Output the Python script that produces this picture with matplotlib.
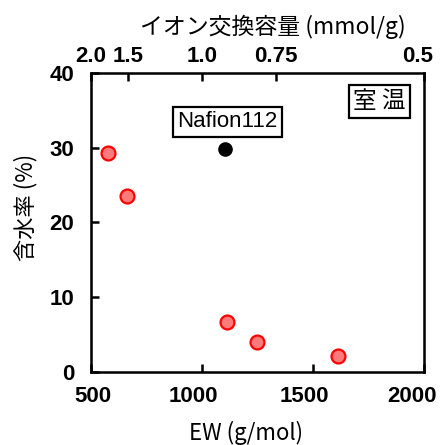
import numpy as np
import matplotlib
matplotlib.use("Agg")
import matplotlib.pyplot as plt
from matplotlib.transforms import ScaledTranslation

plt.rcParams['font.family'] = ['Liberation Sans', 'Noto Sans CJK JP', 'DejaVu Sans']
JP = ['Noto Sans CJK JP', 'DejaVu Sans']

# 含水率 vs EW
ew = [577, 663, 1114, 1250, 1612]
water = [29.3, 23.6, 6.7, 4.0, 2.1]
nafion_ew = [1102]
nafion_water = [29.8]

ew_ticks = [500, 1000, 1500, 2000]
water_ticks = [0, 10, 20, 30, 40]
iec_ticks = [2.0, 1.5, 1.0, 0.75, 0.5]
iec_labels = ['2.0', '1.5', '1.0', '0.75', '0.5']

fig = plt.figure(figsize=(4.42, 4.45), dpi=100)
ax = fig.add_axes([0.206, 0.164, 0.753, 0.672])

ax.plot(ew, water, 'o', ms=10, mfc='#ff7a7a', mec='#ff0000', mew=1.6, zorder=3)
ax.plot(nafion_ew, nafion_water, 'o', ms=9.5, color='black', zorder=3)

ax.set_xlim(500, 2000)
ax.set_ylim(0, 40)
ax.set_xticks(ew_ticks)
ax.set_yticks(water_ticks)
ax.tick_params(direction='in', length=6, width=1.8, labelsize=16)
ax.tick_params(axis='x', pad=10)
ax.tick_params(axis='y', pad=12)
for lab in ax.get_xticklabels() + ax.get_yticklabels():
    lab.set_fontweight('bold')
# nudge the bottom labels sideways (pixels)
for lab, dx in zip(ax.get_xticklabels(), [2, -9, -9, -12]):
    lab.set_transform(lab.get_transform() + ScaledTranslation(dx / 100, 0, fig.dpi_scale_trans))
for s in ax.spines.values():
    s.set_linewidth(1.8)

ax.set_xlabel('EW (g/mol)', family=JP, fontsize=16)
ax.xaxis.set_label_coords(0.465, -0.165)
ax.set_ylabel('含水率 (%)', family=JP, fontsize=16)
ax.yaxis.set_label_coords(-0.16, 0.55)

# イオン交換容量 = 1000 / EW
top = ax.twiny()
top.set_xlim(ax.get_xlim())
top.set_xticks([1000 / c for c in iec_ticks])
top.set_xticklabels(iec_labels, fontweight='bold')
top.tick_params(direction='in', length=6, width=1.8, labelsize=16, pad=4)
top.get_xticklabels()[-1].set_transform(
    top.get_xticklabels()[-1].get_transform() + ScaledTranslation(-0.06, 0, fig.dpi_scale_trans))
top.set_xlabel('イオン交換容量 (mmol/g)', family=JP, fontsize=16.5)
top.xaxis.set_label_coords(0.545, 1.13)

ax.text(1115, 33.5, 'Nafion112', fontsize=16, ha='center', va='center',
        bbox=dict(boxstyle='square,pad=0.2', fc='white', ec='black', lw=1.6))
ax.text(1800, 36.2, '室 温', family=JP, fontsize=17, ha='center', va='center',
        bbox=dict(boxstyle='square,pad=0.2', fc='white', ec='black', lw=1.6))

fig.savefig('out.png', dpi=100)
